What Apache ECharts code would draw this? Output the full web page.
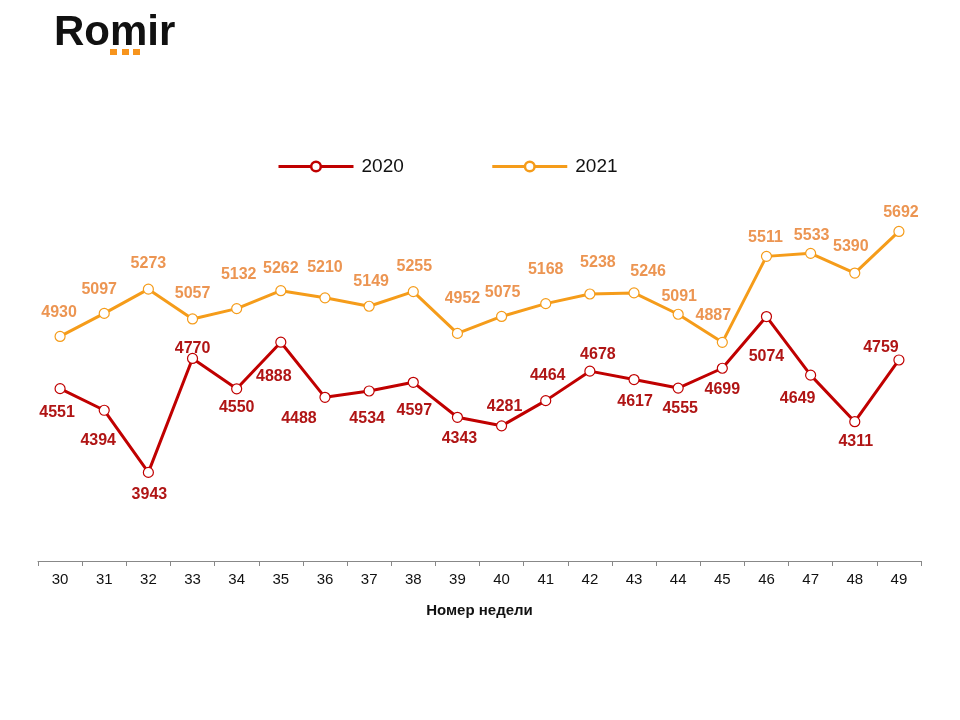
<!DOCTYPE html>
<html>
<head>
<meta charset="utf-8">
<script src="https://cdn.jsdelivr.net/npm/echarts@6/dist/echarts.min.js"></script>
<style>html,body{margin:0;padding:0;background:#fff}#c{width:960px;height:720px}</style>
</head>
<body>
<div id="c"></div>
<script>
// ---- data ----
const weeks = ['30','31','32','33','34','35','36','37','38','39','40','41','42','43','44','45','46','47','48','49'];
const values2020 = [4551,4394,3943,4770,4550,4888,4488,4534,4597,4343,4281,4464,4678,4617,4555,4699,5074,4649,4311,4759];
const values2021 = [4930,5097,5273,5057,5132,5262,5210,5149,5255,4952,5075,5168,5238,5246,5091,4887,5511,5533,5390,5692];
const seriesNames = ['2020','2021'];
const axisTitle = 'Номер недели';

// ---- label layout (offsets of value labels from their points, px) ----
const labelShift2020 = [[-3,24],[-6,30],[1,22],[0,-10],[0,19],[-7,34],[-26,21],[-2,28],[1,28],[2,21],[3,-19],[2,-25],[8,-17],[1,22],[2,21],[0,21],[0,40],[-13,23],[1,20],[-18,-12]];
const labelShift2021 = [[-1,-24],[-5,-24],[0,-26],[0,-25],[2,-34],[0,-22],[0,-30],[2,-25],[1,-25],[5,-35],[1,-24],[0,-34],[8,-31],[14,-21],[1,-18],[-9,-27],[-1,-19],[1,-18],[-4,-26],[2,-19]];

const C2020 = '#C00000', L2020 = '#B01515';
const C2021 = '#F59C1A', L2021 = '#EC9552';
const FONT = 'Arial, "Liberation Sans", sans-serif';

function mk(vals, shifts){
  return vals.map((v,i)=>({value:v, label:{offset:shifts[i]}}));
}

const chart = echarts.init(document.getElementById('c'), null, {renderer:'canvas'});
chart.setOption({
  animation:false,
  backgroundColor:'#fff',
  textStyle:{fontFamily:FONT},
  graphic:[
    {type:'text', left:54, top:12, style:{text:'Romir', font:'bold 42px ' + FONT, fill:'#111'}},
    {type:'rect', shape:{x:110,y:49,width:7,height:6}, style:{fill:'#F7941D'}},
    {type:'rect', shape:{x:122,y:49,width:7,height:6}, style:{fill:'#F7941D'}},
    {type:'rect', shape:{x:133,y:49,width:7,height:6}, style:{fill:'#F7941D'}}
  ],
  legend:{
    left:272, top:152,
    itemWidth:75, itemHeight:12, itemGap:87,
    lineStyle:{width:3},
    itemStyle:{borderWidth:2.5},
    textStyle:{fontSize:19, color:'#111', fontFamily:FONT, padding:[2,0,0,3]},
    data:[ {name:seriesNames[0]}, {name:seriesNames[1], textStyle:{padding:[5,0,0,3]}} ]
  },
  grid:{left:38, right:39, top:189, bottom:159},
  xAxis:{
    type:'category', data:weeks, boundaryGap:true,
    name:axisTitle, nameLocation:'middle', nameGap:42,
    nameTextStyle:{fontSize:15, fontWeight:'bold', color:'#111'},
    axisLine:{lineStyle:{color:'#888', width:1}},
    axisTick:{show:true, length:5, lineStyle:{color:'#888'}},
    axisLabel:{fontSize:15, color:'#111', margin:11}
  },
  yAxis:{type:'value', min:3300, max:6000, show:false, splitLine:{show:false}},
  series:[
    {
      name:seriesNames[0], type:'line', data:mk(values2020,labelShift2020),
      lineStyle:{color:C2020, width:3}, itemStyle:{color:'#fff', borderColor:C2020, borderWidth:1.2},
      symbol:'circle', symbolSize:10,
      label:{show:true, position:'inside', fontSize:16, fontWeight:'bold', color:L2020, fontFamily:FONT},
      z:3
    },
    {
      name:seriesNames[1], type:'line', data:mk(values2021,labelShift2021),
      lineStyle:{color:C2021, width:3}, itemStyle:{color:'#fff', borderColor:C2021, borderWidth:1.2},
      symbol:'circle', symbolSize:10,
      label:{show:true, position:'inside', fontSize:16, fontWeight:'bold', color:L2021, fontFamily:FONT},
      z:2
    }
  ]
});
</script>
</body>
</html>
